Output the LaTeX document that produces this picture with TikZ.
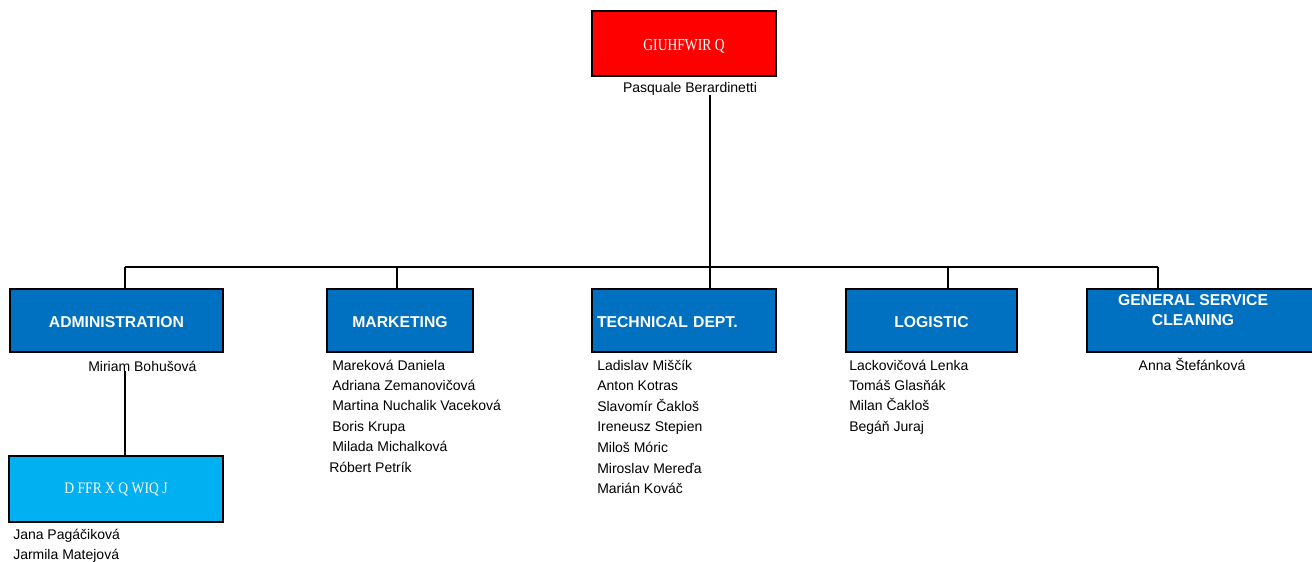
\documentclass[tikz,border=0pt]{standalone}
\usepackage{graphicx}
\usepackage{fontspec}
\setmainfont{Liberation Sans}
\newfontfamily\serifgl{Liberation Serif}
\definecolor{dirred}{HTML}{FF0000}
\definecolor{deptblue}{HTML}{0070C0}
\definecolor{accblue}{HTML}{00B0F0}
\begin{document}
\begin{tikzpicture}[x=0.75pt,y=-0.75pt,
  box/.style={draw=black,line width=1pt,inner sep=0pt,minimum height=47.25pt},
  dept/.style={box,fill=deptblue,text=white,font=\fontsize{11.8}{15}\selectfont\bfseries},
  glyph/.style={font=\fontsize{12}{14}\selectfont\serifgl,text=white},
  nm/.style={anchor=base west,inner sep=0pt,font=\fontsize{10.5}{12}\selectfont,text=black},
  nmc/.style={nm,anchor=base},
  conn/.style={line width=1.1pt}]
\useasboundingbox (0,0) rectangle (1312,561);

% director
\node[box,fill=dirred,glyph,minimum width=138pt,minimum height=48.75pt] (dir) at (684,43.5) {\raisebox{-2.2pt}[\height][\depth]{\scalebox{0.85}[1.05]{GIUHFWIR Q}}};
\node[nmc] (dirname) at (690,92) {Pasquale Berardinetti};

% departments
\node[dept,minimum width=159.75pt] (admin) at (116.5,320.5) {\raisebox{-1.2pt}[\height][\depth]{ADMINISTRATION}};
\node[dept,minimum width=109.5pt] (mark) at (400,320.5) {\raisebox{-1.2pt}[\height][\depth]{MARKETING}};
\node[dept,minimum width=138pt,inner xsep=3.75pt,text width=130.5pt,align=left] (tech) at (684,320.5) {\raisebox{-1.2pt}[\height][\depth]{TECHNICAL DEPT.}};
\node[dept,minimum width=128.25pt] (logi) at (931.5,320.5) {\raisebox{-1.2pt}[\height][\depth]{LOGISTIC}};
\node[dept,minimum width=170.25pt] (gen) at (1200.5,320.5) {\hspace*{-11.2pt}\raisebox{6.4pt}[\height][\depth]{\begin{tabular}{@{}c@{}}GENERAL SERVICE\\CLEANING\end{tabular}}};

% accounting
\node[box,fill=accblue,glyph,minimum width=160.5pt,minimum height=49.5pt] (acc) at (116,489) {\scalebox{0.85}[1]{D FFR X Q WIQ J}};

% bus coordinates
\coordinate (dA) at (125,267);
\coordinate (dM) at (397,267);
\coordinate (dT) at (710,267);
\coordinate (dL) at (948,267);
\coordinate (dG) at (1158,267);

% names
\node[nm] (miriam) at (88,371) {Miriam Bohušová};
\node[nm] (jana) at (13,539) {Jana Pagáčiková};
\node[nm] (jarmila) at (13,559) {Jarmila Matejová};

\foreach \t [count=\i] in {Mareková Daniela, Adriana Zemanovičová, Martina Nuchalik Vaceková, Boris Krupa, Milada Michalková}
  \node[nm] (mk\i) at (332,{370+20.4*(\i-1)}) {\t};
\node[nm] (mk6) at (329,472) {Róbert Petrík};

\foreach \t [count=\i] in {Ladislav Miščík, Anton Kotras, Slavomír Čakloš, Ireneusz Stepien, Miloš Móric, Miroslav Mereďa, Marián Kováč}
  \node[nm] (tc\i) at (597,{370+20.6*(\i-1)}) {\t};

\foreach \t [count=\i] in {Lackovičová Lenka, Tomáš Glasňák, Milan Čakloš, Begáň Juraj}
  \node[nm] (lg\i) at (849,{370+20.4*(\i-1)}) {\t};

\node[nmc] (anna) at (1192,370) {Anna Štefánková};

% connectors
\draw[conn] (dirname.south -| dT) -- (dT);
\draw[conn] (dA) -- (dG);
\draw[conn] (dA) -- (dA |- admin.north);
\draw[conn] (dM) -- (dM |- mark.north);
\draw[conn] (dT) -- (dT |- tech.north);
\draw[conn] (dL) -- (dL |- logi.north);
\draw[conn] (dG) -- (dG |- gen.north);
\draw[conn] (miriam.south -| dA) -- (dA |- acc.north);
\end{tikzpicture}
\end{document}
